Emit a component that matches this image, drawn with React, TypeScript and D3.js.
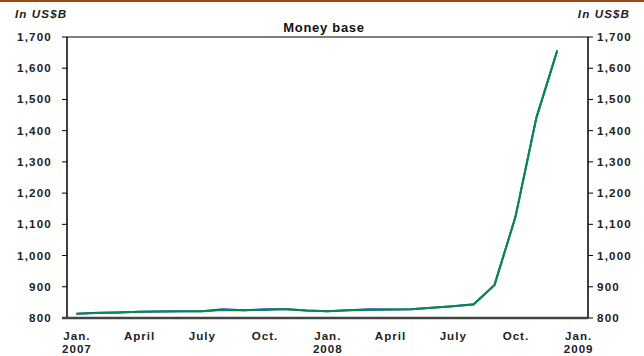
import React from "react";
import * as d3 from "d3";

const months = [
  "2007-01","2007-02","2007-03","2007-04","2007-05","2007-06","2007-07","2007-08","2007-09","2007-10","2007-11","2007-12",
  "2008-01","2008-02","2008-03","2008-04","2008-05","2008-06","2008-07","2008-08","2008-09","2008-10","2008-11","2008-12",
];
const moneyBase = [814, 816, 818, 820, 821, 822, 822, 826, 825, 826, 829, 824, 822, 825, 826, 827, 828, 833, 838, 843, 906, 1124, 1441, 1657];
const moneyBaseBlue = [814, 817, 818, 820, 821, 822, 822, 828, 825, 828, 828, 824, 822, 825, 828, 827, 828, 833, 838, 844, 906, 1124, 1441, 1657];
const yTicks = [800, 900, 1000, 1100, 1200, 1300, 1400, 1500, 1600, 1700];
const xTickIdx = [0, 3, 6, 9, 12, 15, 18, 21, 24];
const xTickLabels = [["Jan.", "2007"], ["April", ""], ["July", ""], ["Oct.", ""], ["Jan.", "2008"], ["April", ""], ["July", ""], ["Oct.", ""], ["Jan.", "2009"]];
const title = "Money base";
const unit = "In US$B";

export default function App() {
  const W = 644, H = 356;
  const left = 67, right = 588, top = 37, bottom = 318;
  const x = d3.scaleLinear().domain([-0.45, 24.47]).range([left, right]);
  const y = d3.scaleLinear().domain([800, 1700]).range([bottom, top]);
  const line = d3.line<number>().x((_, i) => x(i)).y((v) => y(v));
  const fmt = d3.format(",");
  const font = "'Liberation Sans', Arial, sans-serif";
  const ls = 1.1;
  return (
    <svg width={W} height={H} style={{ position: "absolute", left: 0, top: 0, fontFamily: font }}>
      <rect x={0} y={0} width={W} height={H} fill="#fff" />
      <line x1={0} x2={W} y1={1} y2={1} stroke="#9a4a14" strokeWidth={2} />
      <text x={15} y={18} fontSize={11.6} fontWeight="bold" fontStyle="italic" fill="#222" letterSpacing={ls}>{unit}</text>
      <text x={630} y={18} fontSize={11.6} fontWeight="bold" fontStyle="italic" fill="#222" textAnchor="end" letterSpacing={ls}>{unit}</text>
      <text x={324} y={32} fontSize={13} fontWeight="bold" fill="#111" textAnchor="middle" letterSpacing={0.7}>{title}</text>
      <line x1={left} x2={right} y1={top} y2={top} stroke="#000" strokeWidth={1} />
      <line x1={left} x2={left} y1={top} y2={bottom} stroke="#000" strokeWidth={1.5} />
      <line x1={right} x2={right} y1={top} y2={bottom} stroke="#000" strokeWidth={1.5} />
      {yTicks.map((t) => (
        <g key={t}>
          <line x1={left - 5} x2={left} y1={y(t)} y2={y(t)} stroke="#000" />
          <line x1={right} x2={right + 5} y1={y(t)} y2={y(t)} stroke="#000" />
          <text x={52} y={y(t) + 4} fontSize={11.6} fontWeight="bold" textAnchor="end" fill="#222" letterSpacing={1.2}>{fmt(t)}</text>
          <text x={597} y={y(t) + 4} fontSize={11.6} fontWeight="bold" textAnchor="start" fill="#222" letterSpacing={1.2}>{fmt(t)}</text>
        </g>
      ))}
      {xTickIdx.map((i, k) => (
        <g key={i}>
          <text x={x(i) + 0.5} y={340} fontSize={11.6} fontWeight="bold" textAnchor="middle" fill="#222" letterSpacing={1}>{xTickLabels[k][0]}</text>
          {xTickLabels[k][1] && (
            <text x={x(i) + 0.5} y={353} fontSize={11.6} fontWeight="bold" textAnchor="middle" fill="#222" letterSpacing={1}>{xTickLabels[k][1]}</text>
          )}
        </g>
      ))}
      <path d={line(moneyBaseBlue) || ""} fill="none" stroke="#1f3f9f" strokeWidth={2} />
      <path d={line(moneyBase) || ""} fill="none" stroke="#078a4f" strokeWidth={2} />
      <line x1={left - 5} x2={right} y1={bottom} y2={bottom} stroke="#444" strokeWidth={2.5} />
    </svg>
  );
}
